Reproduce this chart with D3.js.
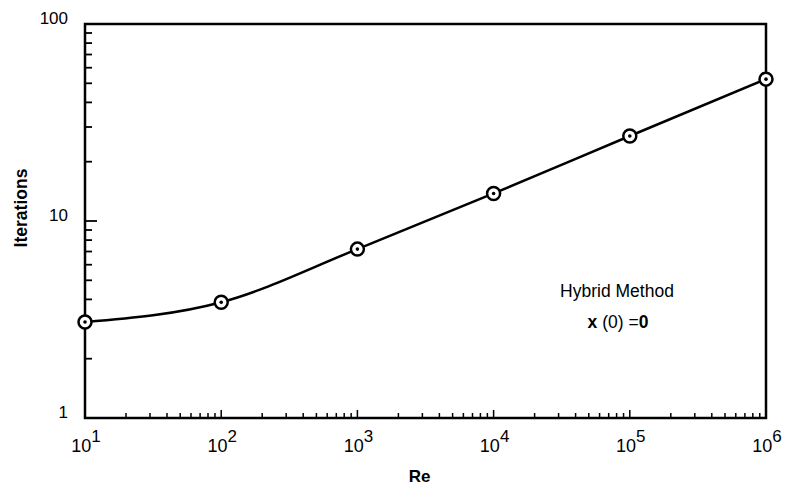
<!DOCTYPE html>
<html>
<head>
<meta charset="utf-8">
<script src="https://cdn.jsdelivr.net/npm/d3@7"></script>
<style>
  body { margin: 0; background: #fff; }
  svg { font-family: "Liberation Sans", Arial, sans-serif; }
</style>
</head>
<body>
<svg width="786" height="487"></svg>
<script>
// values
const reynolds = [1e1, 1e2, 1e3, 1e4, 1e5, 1e6]
const iterations = [3.07, 3.87, 7.2, 13.8, 27, 52.5]
const xTickExps = [1, 2, 3, 4, 5, 6]
const yTickValues = [1, 10, 100]

const svg = d3.select('svg')
const margin = {top: 24, right: 20, bottom: 69, left: 85}
const width = 786 - margin.left - margin.right
const height = 487 - margin.top - margin.bottom

const g = svg.append('g')
  .attr('transform', 'translate(' + margin.left + ',' + margin.top + ')')

const x = d3.scaleLog().domain([10, 1e6]).range([0, width])
const y = d3.scaleLog().domain([1, 100]).range([height, 0])

// minor ticks (inside)
const xMinor = []
for (let e = 1; e < 6; e++) for (let k = 2; k <= 9; k++) xMinor.push(k * Math.pow(10, e))
const yMinor = []
for (let e = 0; e < 2; e++) for (let k = 2; k <= 9; k++) yMinor.push(k * Math.pow(10, e))

g.selectAll('.xminor').data(xMinor).enter().append('line')
  .attr('x1', d => x(d)).attr('x2', d => x(d))
  .attr('y1', height).attr('y2', height - 5)
  .attr('stroke', '#000').attr('stroke-width', 1.5)

g.selectAll('.xmajor').data(xTickExps.slice(1, 5)).enter().append('line')
  .attr('x1', d => x(Math.pow(10, d))).attr('x2', d => x(Math.pow(10, d)))
  .attr('y1', height).attr('y2', height - 8)
  .attr('stroke', '#000').attr('stroke-width', 1.5)

g.selectAll('.yminor').data(yMinor).enter().append('line')
  .attr('y1', d => y(d)).attr('y2', d => y(d))
  .attr('x1', 0).attr('x2', 7)
  .attr('stroke', '#000').attr('stroke-width', 1.8)

g.append('line')
  .attr('y1', y(10)).attr('y2', y(10))
  .attr('x1', 0).attr('x2', 12)
  .attr('stroke', '#000').attr('stroke-width', 1.8)

// frame
g.append('rect')
  .attr('width', width).attr('height', height)
  .attr('fill', 'none').attr('stroke', '#000').attr('stroke-width', 2.5)

// tick labels
g.selectAll('.ylab').data(yTickValues).enter().append('text')
  .attr('x', -17).attr('y', d => y(d) - 4)
  .attr('text-anchor', 'end').attr('dominant-baseline', 'middle')
  .attr('font-size', 17)
  .text(d => d)

const xl = g.selectAll('.xlab').data(xTickExps).enter().append('text')
  .attr('x', d => x(Math.pow(10, d)) + 1).attr('y', height + 34)
  .attr('text-anchor', 'middle')
  .attr('font-size', 18)
xl.append('tspan').text('10')
xl.append('tspan').attr('dy', -10).attr('font-size', 17).text(d => d)

// axis titles
g.append('text')
  .attr('x', width / 2 - 6).attr('y', height + 64)
  .attr('text-anchor', 'middle')
  .attr('font-size', 17).attr('font-weight', 'bold')
  .text('Re')

g.append('text')
  .attr('transform', 'translate(' + (-58) + ',' + (208 - margin.top) + ') rotate(-90)')
  .attr('text-anchor', 'middle')
  .attr('font-size', 17.5).attr('font-weight', 'bold')
  .text('Iterations')

// curve
const pts = reynolds.map((r, i) => [x(r), y(iterations[i])])
g.append('path')
  .attr('d', d3.line().curve(d3.curveMonotoneX)(pts))
  .attr('fill', 'none').attr('stroke', '#000').attr('stroke-width', 2.5)

const marks = g.selectAll('.pt').data(pts).enter().append('g')
  .attr('transform', d => 'translate(' + d[0] + ',' + d[1] + ')')
marks.append('circle').attr('r', 6.5)
  .attr('fill', '#fff').attr('stroke', '#000').attr('stroke-width', 2.5)
marks.append('circle').attr('r', 1.8).attr('fill', '#000')

// annotation
g.append('text')
  .attr('x', 617 - margin.left).attr('y', 292 - margin.top)
  .attr('text-anchor', 'middle').attr('dominant-baseline', 'middle')
  .attr('font-size', 17.5)
  .text('Hybrid Method')

const ann = g.append('text')
  .attr('x', 618 - margin.left).attr('y', 323 - margin.top)
  .attr('text-anchor', 'middle').attr('dominant-baseline', 'middle')
  .attr('font-size', 17.5)
ann.append('tspan').attr('font-weight', 'bold').text('x')
ann.append('tspan').text(' (0) =')
ann.append('tspan').attr('font-weight', 'bold').text('0')
</script>
</body>
</html>
